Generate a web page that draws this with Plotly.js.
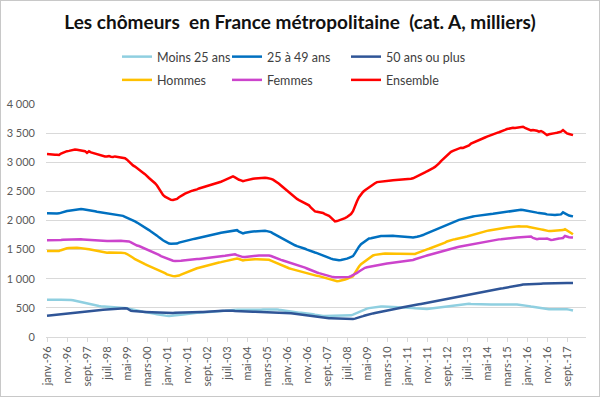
<!DOCTYPE html>
<html><head><meta charset="utf-8">
<script src="https://cdn.plot.ly/plotly-3.0.1.min.js"></script>
<style>
html,body{margin:0;padding:0;background:#fff;}
#wrap{position:relative;width:600px;height:397px;}
#chart{width:600px;height:397px;}
#frame{position:absolute;left:0;top:0;width:600px;height:397px;box-sizing:border-box;border:1px solid #c8c8c8;pointer-events:none;}
</style>
</head><body><div id="wrap"><div id="chart"></div><div id="frame"></div></div>
<script>
// Month names (French abbreviations) and years for the category axis
const monthNames = ['janv.','févr.','mars','avr.','mai','juin','juil.','août','sept.','oct.','nov.','déc.'];
const firstYear = 1996;
const nData = 264;      // janv.-96 .. déc.-17
const nCategories = 270; // axis extends to juin-18

// Series values (thousands), monthly from janv.-96
const moins25 = [
640,642,640,638,640,641,640,639,640,638,640,640,
636,630,622,615,611,600,590,580,570,562,554,548,
542,537,532,528,526,524,522,520,518,517,516,515,
514,513,512,505,495,485,476,467,460,452,445,438,
432,428,424,420,414,406,398,390,382,375,370,366,
363,362,364,366,369,372,376,380,386,392,398,404,
410,412,414,416,418,420,422,424,425,426,427,429,
432,436,440,444,448,452,456,460,463,466,467,467,
466,465,466,467,468,467,466,467,467,468,467,468,
470,472,474,476,478,479,478,474,468,462,455,448,
442,438,434,430,426,422,418,415,412,410,410,405,
398,390,382,375,368,363,362,362,363,364,363,363,
362,362,363,363,364,363,363,365,372,385,400,420,
438,450,462,475,488,496,502,507,512,516,520,524,
524,523,522,520,519,518,517,516,515,514,514,512,
510,506,502,498,494,490,486,482,479,479,480,484,
488,492,496,500,505,510,515,520,524,530,536,542,
548,553,558,562,566,569,571,570,568,566,565,563,
562,561,560,560,561,562,560,559,560,561,560,560,
561,560,560,559,560,561,560,558,555,550,545,540,
535,530,524,518,512,506,500,494,488,483,479,478,
478,479,480,479,478,479,480,479,476,470,462,455];

const ans25a49 = [
2123,2120,2125,2118,2122,2120,2123,2135,2145,2155,2162,2168,
2175,2180,2185,2190,2195,2197,2192,2188,2180,2175,2170,2160,
2157,2150,2145,2135,2128,2123,2120,2115,2110,2105,2102,2100,
2099,2090,2080,2064,2050,2035,2015,2000,1984,1965,1945,1920,
1900,1881,1860,1835,1810,1790,1765,1740,1710,1680,1661,1640,
1620,1604,1600,1598,1600,1604,1621,1630,1645,1655,1665,1672,
1678,1680,1688,1695,1700,1708,1715,1720,1728,1735,1740,1750,
1760,1770,1780,1788,1794,1800,1808,1815,1820,1825,1830,1834,
1810,1790,1777,1790,1800,1805,1808,1811,1815,1818,1820,1822,
1822,1825,1818,1811,1800,1780,1760,1740,1725,1708,1690,1670,
1650,1630,1604,1590,1575,1560,1550,1545,1530,1515,1500,1485,
1476,1465,1450,1440,1425,1410,1400,1389,1375,1360,1345,1335,
1325,1315,1318,1322,1328,1332,1345,1360,1375,1389,1440,1500,
1550,1592,1620,1650,1672,1690,1695,1705,1715,1722,1728,1735,
1735,1738,1736,1735,1740,1738,1735,1733,1735,1730,1725,1722,
1718,1715,1712,1708,1710,1720,1728,1735,1750,1765,1780,1795,
1810,1822,1835,1850,1862,1875,1891,1905,1920,1935,1950,1968,
1980,1995,2010,2020,2030,2040,2053,2060,2065,2070,2075,2078,
2081,2085,2090,2095,2100,2105,2111,2115,2120,2128,2135,2140,
2145,2150,2155,2162,2168,2170,2175,2178,2182,2185,2180,2172,
2165,2158,2151,2145,2140,2135,2130,2128,2125,2115,2105,2100,
2095,2093,2095,2098,2100,2105,2140,2120,2093,2085,2078,2071];

const ans50plus = [
363,367,372,376,380,385,390,395,398,402,406,410,
413,416,420,423,427,430,433,438,442,446,450,455,
458,460,462,465,467,470,472,474,476,478,479,482,
485,488,492,495,490,465,450,445,440,438,436,434,
432,430,428,427,425,423,420,418,416,414,412,410,
410,410,411,413,415,417,419,421,423,425,427,427,
428,428,429,429,430,430,430,431,430,430,432,435,
438,442,445,448,450,452,454,455,455,452,448,445,
442,440,438,436,435,434,433,432,432,431,430,430,
430,429,428,428,427,427,426,425,423,420,417,414,
412,410,407,403,398,393,388,383,378,373,368,363,
358,354,350,345,340,335,330,326,323,323,322,320,
318,315,312,310,308,307,306,306,307,310,315,323,
333,345,358,370,382,392,398,405,412,420,428,435,
442,448,455,462,469,476,483,490,497,503,509,514,
520,526,533,540,547,554,561,568,575,583,590,597,
604,611,618,625,632,639,645,652,658,664,670,676,
682,687,692,697,703,709,716,723,730,737,745,752,
760,768,776,784,790,796,802,808,814,820,826,832,
837,842,848,854,860,867,873,880,887,893,900,903,
905,907,908,910,911,912,913,915,917,919,921,923,
924,925,926,927,928,929,929,930,929,928,927,926];

const hommes = [
1476,1474,1478,1472,1475,1473,1476,1490,1505,1515,1522,1526,
1530,1533,1535,1532,1530,1528,1525,1522,1512,1505,1498,1492,
1488,1480,1472,1465,1458,1452,1448,1450,1447,1448,1446,1448,
1447,1448,1446,1440,1425,1407,1385,1360,1335,1315,1303,1285,
1268,1250,1235,1220,1210,1195,1180,1165,1150,1135,1115,1095,
1075,1061,1050,1045,1042,1043,1055,1070,1085,1100,1115,1130,
1145,1159,1170,1180,1190,1200,1210,1220,1230,1240,1246,1255,
1262,1270,1278,1285,1294,1303,1310,1318,1326,1335,1342,1349,
1340,1330,1315,1320,1325,1328,1330,1332,1333,1335,1334,1332,
1335,1333,1332,1325,1310,1295,1275,1260,1245,1230,1215,1199,
1190,1180,1170,1160,1150,1140,1130,1122,1115,1105,1095,1085,
1078,1070,1060,1050,1045,1035,1025,1016,1005,995,985,975,
965,957,962,968,975,986,1000,1015,1030,1043,1100,1160,
1210,1250,1275,1310,1340,1365,1389,1400,1410,1418,1425,1428,
1431,1433,1430,1432,1434,1431,1430,1428,1431,1429,1427,1425,
1422,1420,1419,1418,1425,1440,1455,1470,1485,1498,1505,1515,
1528,1540,1552,1565,1580,1590,1600,1620,1640,1655,1665,1672,
1678,1688,1698,1705,1712,1718,1725,1735,1745,1758,1770,1782,
1794,1802,1810,1815,1822,1828,1835,1840,1845,1851,1858,1865,
1870,1875,1880,1885,1890,1894,1898,1900,1902,1898,1900,1898,
1895,1890,1885,1878,1870,1863,1855,1848,1840,1830,1822,1818,
1820,1822,1825,1828,1830,1832,1835,1851,1830,1805,1785,1765];

const femmes = [
1661,1660,1662,1660,1661,1660,1662,1665,1670,1672,1675,1676,
1677,1678,1680,1679,1676,1678,1675,1672,1668,1670,1666,1662,
1660,1658,1655,1652,1650,1649,1648,1650,1652,1655,1654,1655,
1655,1653,1650,1648,1645,1640,1625,1605,1585,1570,1562,1548,
1535,1520,1505,1490,1476,1462,1445,1428,1410,1389,1375,1360,
1345,1330,1315,1310,1305,1303,1305,1310,1315,1320,1325,1328,
1330,1332,1335,1338,1340,1343,1346,1350,1354,1358,1361,1365,
1369,1374,1378,1383,1389,1393,1398,1403,1408,1413,1419,1405,
1390,1380,1372,1375,1380,1383,1386,1389,1392,1395,1398,1401,
1404,1407,1405,1400,1390,1375,1361,1350,1338,1325,1314,1303,
1292,1282,1272,1262,1254,1246,1234,1220,1205,1190,1176,1160,
1145,1130,1120,1108,1096,1085,1075,1065,1055,1045,1035,1028,
1026,1026,1024,1025,1027,1026,1026,1030,1045,1060,1073,1100,
1125,1150,1175,1188,1198,1205,1216,1222,1228,1235,1242,1250,
1255,1258,1262,1266,1270,1275,1279,1284,1289,1292,1296,1300,
1305,1310,1315,1322,1335,1348,1360,1372,1382,1389,1398,1408,
1418,1428,1440,1448,1455,1462,1470,1478,1488,1500,1515,1525,
1535,1540,1548,1555,1562,1568,1574,1580,1588,1595,1602,1610,
1615,1621,1628,1635,1642,1650,1656,1662,1668,1672,1676,1678,
1680,1684,1688,1693,1698,1702,1705,1708,1710,1712,1715,1718,
1720,1722,1725,1700,1690,1678,1685,1690,1692,1688,1690,1675,
1667,1670,1680,1688,1692,1695,1700,1735,1720,1712,1710,1708];

const ensemble = [
3140,3135,3138,3132,3130,3128,3125,3150,3165,3180,3190,3195,
3205,3212,3218,3215,3210,3212,3206,3190,3160,3188,3170,3160,
3149,3140,3125,3110,3102,3100,3098,3105,3095,3090,3100,3095,
3092,3090,3085,3070,3045,3010,2970,2946,2925,2895,2870,2845,
2820,2795,2770,2730,2700,2675,2640,2600,2550,2480,2440,2410,
2387,2370,2355,2352,2358,2370,2400,2415,2440,2460,2480,2495,
2505,2514,2520,2535,2550,2560,2570,2580,2590,2600,2605,2620,
2630,2640,2655,2665,2680,2695,2710,2725,2735,2756,2740,2716,
2700,2690,2676,2685,2695,2700,2710,2716,2720,2725,2730,2733,
2733,2735,2730,2728,2715,2700,2680,2659,2630,2600,2570,2540,
2514,2490,2460,2430,2400,2370,2350,2330,2310,2295,2284,2260,
2220,2180,2157,2150,2145,2140,2130,2110,2095,2081,2050,2020,
1984,1990,2000,2010,2024,2040,2060,2085,2111,2160,2254,2330,
2400,2457,2490,2520,2545,2572,2600,2620,2640,2659,2665,2670,
2675,2680,2687,2690,2688,2692,2695,2699,2700,2702,2705,2700,
2708,2712,2716,2725,2740,2755,2773,2790,2810,2825,2845,2860,
2880,2900,2920,2946,2980,3020,3055,3090,3120,3150,3178,3195,
3210,3222,3235,3250,3245,3258,3264,3290,3322,3335,3350,3365,
3379,3395,3410,3425,3440,3455,3465,3480,3495,3505,3515,3524,
3540,3555,3570,3581,3585,3590,3588,3593,3600,3595,3610,3590,
3575,3552,3548,3555,3552,3540,3524,3535,3520,3500,3465,3480,
3490,3494,3500,3505,3515,3524,3552,3520,3494,3485,3475,3465];

// Category labels
const categories = [];
for (let i = 0; i < nCategories; i++) {
  const y = firstYear + Math.floor(i / 12);
  categories.push(monthNames[i % 12] + '-' + String(y % 100).padStart(2, '0'));
}
const months = categories.slice(0, nData);
const tickLabels = categories.filter((c, i) => i % 10 === 0 && i < nData);

const seriesNames = ['Moins 25 ans', '25 à 49 ans', '50 ans ou plus', 'Hommes', 'Femmes', 'Ensemble'];
const seriesData = [moins25, ans25a49, ans50plus, hommes, femmes, ensemble];
const colors = ['#8FCFE0', '#0070C0', '#2F5597', '#FFC000', '#CC44CC', '#FF0000'];
const legendIds = ['legend', 'legend2', 'legend3', 'legend', 'legend2', 'legend3'];

const traces = seriesNames.map((name, i) => ({
  type: 'scatter', mode: 'lines', name: name,
  x: months, y: seriesData[i],
  line: {color: colors[i], width: 2.5},
  legend: legendIds[i], legendgroup: 'g' + i,
  hoverinfo: 'skip'
}));

const legendFont = {family: 'Lato', size: 12.5, color: '#404040'};
function legendAt(px) {
  return {x: px / 600, xref: 'container', y: 1 - 42 / 397, yref: 'container',
    xanchor: 'left', yanchor: 'top', orientation: 'v', font: legendFont,
    bgcolor: 'rgba(0,0,0,0)', traceorder: 'grouped', tracegroupgap: 4, borderwidth: 0};
}

const layout = {
  width: 600, height: 397,
  paper_bgcolor: '#ffffff', plot_bgcolor: '#ffffff',
  margin: {l: 46, r: 14, t: 104, b: 60, autoexpand: false},
  separators: ', ',
  font: {family: 'Lato', color: '#595959'},
  title: {
    text: 'Les chômeurs\u00a0 en France métropolitaine\u00a0 (cat. A, milliers)',
    font: {family: 'Lato', size: 19, color: '#111111', weight: 'bold'},
    x: 0.5, xanchor: 'center', xref: 'container',
    y: 1 - 22 / 397, yanchor: 'middle', yref: 'container'
  },
  showlegend: true,
  legend: legendAt(117),
  legend2: legendAt(227),
  legend3: legendAt(346),
  xaxis: {
    type: 'category', categoryorder: 'array', categoryarray: categories,
    range: [-0.5, nCategories - 0.5], automargin: false,
    tickmode: 'array', tickvals: tickLabels, ticktext: tickLabels,
    tickangle: -90, tickfont: {family: 'Lato', size: 11, color: '#595959'},
    showgrid: false, showline: true, linecolor: '#d9d9d9', linewidth: 1,
    ticks: 'outside', ticklen: 4, tickcolor: '#d9d9d9', zeroline: false
  },
  yaxis: {
    range: [0, 4000], dtick: 500, tick0: 0, tickformat: ',d', automargin: false,
    tickfont: {family: 'Lato', size: 11, color: '#595959'},
    showgrid: true, gridcolor: '#d9d9d9', gridwidth: 1,
    zeroline: false, showline: false, ticks: '', ticklabelstandoff: 10
  }
};

Plotly.newPlot('chart', traces, layout, {displayModeBar: false, staticPlot: true});
</script></body></html>
